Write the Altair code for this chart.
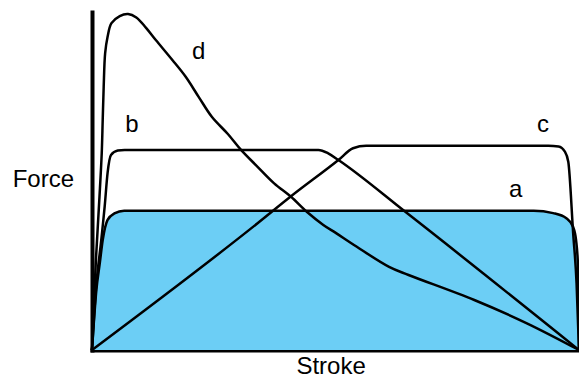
import altair as alt
import pandas as pd

# Curve a (filled)
a_x = [0, 0.9, 1.6, 2.2, 3.2, 4.6, 6.6, 8.7, 90.7, 94.7, 97.4, 98.8, 99.4, 99.8, 100]
a_y = [0, 17.8, 25.7, 32.5, 38.5, 40.4, 41.2, 41.2, 41.2, 40.5, 39.0, 36.4, 32.5, 24.6, 0]

# Curve b
b_x = [0, 0.8, 1.9, 2.6, 3.2, 3.9, 5.3, 6.7, 46.5, 48.5, 50.6, 64.4, 100]
b_y = [0, 17.8, 32.5, 42.4, 52.4, 57.7, 59.0, 59.2, 59.2, 58.2, 56.2, 40.8, 0]

# Curve c
c_x = [0, 34.0, 40.8, 50.6, 53.6, 56.3, 59.3, 93.7, 95.8, 97.1, 97.8, 98.8, 99.5, 100]
c_y = [0, 37.5, 45.4, 56.2, 59.7, 60.4, 60.4, 60.4, 60.2, 58.7, 55.7, 34.6, 19.8, 0]

# Curve d
d_x = [0, 0.8, 1.5, 2.0, 2.2, 2.4, 2.7, 3.2, 4.0, 5.7, 7.4, 9.1, 11.1, 13.1, 16.5, 19.2,
       21.9, 24.6, 27.9, 30.6, 34.0, 37.4, 40.8, 44.1, 47.5, 50.2, 54.3, 61.0, 65.0, 78.5, 89.3, 100]
d_y = [0, 26.6, 44.4, 58.3, 68.1, 77.9, 87.8, 92.7, 96.7, 98.8, 99.4, 98.4, 95.3, 91.7, 85.8, 80.9,
       74.9, 69.0, 63.9, 59.2, 54.2, 49.3, 45.4, 40.9, 37.0, 34.5, 30.6, 24.6, 22.2, 14.8, 7.9, 0]

# Labels
label_text = ["a", "b", "c", "d", "Force", "Stroke"]
label_x = [87.0, 8.2, 92.6, 21.9, -10.0, 49.1]
label_y = [45.4, 64.6, 64.6, 86.0, 48.3, -7.0]

rows = []
for name, xs, ys in [("a", a_x, a_y), ("b", b_x, b_y), ("c", c_x, c_y)]:
    for i, (xv, yv) in enumerate(zip(xs, ys)):
        rows.append({"curve": name, "i": i, "stroke": xv, "force": yv})
abc = pd.DataFrame(rows)
d_df = pd.DataFrame({"stroke": d_x, "force": d_y, "i": list(range(len(d_x)))})
area_df = pd.DataFrame({"stroke": a_x, "force": a_y})
labels = pd.DataFrame({"text": label_text, "stroke": label_x, "force": label_y})

xscale = alt.Scale(domain=[0, 100], nice=False, zero=False)
yscale = alt.Scale(domain=[0, 100], nice=False, zero=False)
axis_style = dict(domain=True, domainWidth=4, domainColor="black", domainCap="square",
                  ticks=False, labels=False, grid=False, title="")

area = alt.Chart(area_df).mark_area(color="#6CCEF5", interpolate="monotone", opacity=1).encode(
    x=alt.X("stroke:Q", scale=xscale, axis=alt.Axis(**axis_style)),
    y=alt.Y("force:Q", scale=yscale, axis=alt.Axis(**axis_style), stack=False),
)

lines = alt.Chart(abc).mark_line(color="black", strokeWidth=2.5, interpolate="monotone").encode(
    x=alt.X("stroke:Q", scale=xscale),
    y=alt.Y("force:Q", scale=yscale),
    detail="curve:N",
    order="i:Q",
)

dline = alt.Chart(d_df).mark_line(color="black", strokeWidth=2.5, interpolate="catmull-rom").encode(
    x=alt.X("stroke:Q", scale=xscale),
    y=alt.Y("force:Q", scale=yscale),
    order="i:Q",
)

text = alt.Chart(labels).mark_text(
    font="Liberation Sans", fontSize=24, color="black", align="center", baseline="alphabetic"
).encode(
    x=alt.X("stroke:Q", scale=xscale),
    y=alt.Y("force:Q", scale=yscale),
    text="text:N",
)

chart = alt.layer(area, lines, dline, text).properties(
    width=487,
    height=338,
    autosize=alt.AutoSizeParams(type="none"),
    padding={"left": 84, "top": 4, "right": 0, "bottom": 31},
    background="white",
).configure_view(stroke=None)

chart.save("out.html", embed_options={"renderer": "svg", "actions": False})
